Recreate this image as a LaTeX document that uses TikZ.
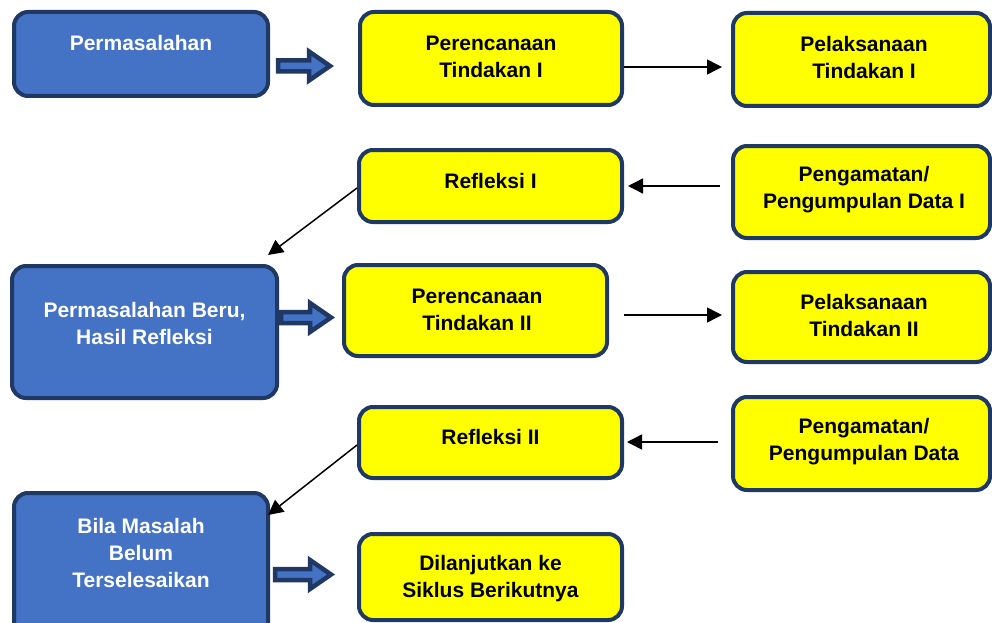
\documentclass[tikz,border=0pt]{standalone}
\usepackage{fontspec}
\setmainfont{Liberation Sans}
\usetikzlibrary{arrows.meta}
\definecolor{boxblue}{HTML}{4472C4}
\definecolor{navy}{HTML}{1F3864}
\definecolor{boxyellow}{HTML}{FFFF00}
\begin{document}
\begin{tikzpicture}[x=1pt,y=-1pt,
  base/.style={draw=navy, line width=4pt, rounded corners=14pt, inner sep=0pt},
  bluebox/.style={base, fill=boxblue},
  yellowbox/.style={base, fill=boxyellow},
  wtxt/.style={text=white, font=\fontsize{21}{27}\selectfont\bfseries, align=center, inner sep=0pt},
  btxt/.style={text=black, font=\fontsize{21}{27}\selectfont\bfseries, align=center, inner sep=0pt},
  conn/.style={draw=black, line width=1.5pt, -{Triangle[length=15pt,width=15pt]}},
  pics/barrow/.style={code={
    \draw[fill=boxblue, draw=navy, line width=4.5pt, line join=miter]
      (0,0) -- (-21,-14.5) -- (-21,-5.5) -- (-#1,-5.5) -- (-#1,5.5) -- (-21,5.5) -- (-21,14.5) -- cycle;}}
]
\useasboundingbox (0,0) rectangle (992,623);

% boxes
\node[bluebox, minimum width=254pt, minimum height=84pt] (p1) at (141,54) {};
\node[wtxt] (p1t) at (141,43) {Permasalahan};

\node[yellowbox, minimum width=262pt, minimum height=93pt] (r1) at (491,58.5) {};
\node[btxt] (r1t) at (491,57) {Perencanaan\\Tindakan I};

\node[yellowbox, minimum width=257pt, minimum height=93pt] (l1) at (861.5,59.5) {};
\node[btxt] (l1t) at (864,57) {Pelaksanaan\\Tindakan I};

\node[yellowbox, minimum width=263pt, minimum height=72pt] (f1) at (490.5,186) {};
\node[btxt] (f1t) at (490.5,181) {Refleksi I};

\node[yellowbox, minimum width=257pt, minimum height=92pt] (g1) at (861.5,192) {};
\node[btxt] (g1t) at (864,189.5) {Pengamatan/\\Pengumpulan Data I};

\node[bluebox, minimum width=265pt, minimum height=132pt] (p2) at (144.5,332) {};
\node[wtxt] (p2t) at (144.5,323) {Permasalahan Beru,\\Hasil Refleksi};

\node[yellowbox, minimum width=263pt, minimum height=91pt] (r2) at (475.5,310.5) {};
\node[btxt] (r2t) at (477,309.5) {Perencanaan\\Tindakan II};

\node[yellowbox, minimum width=257pt, minimum height=90pt] (l2) at (861.5,317) {};
\node[btxt] (l2t) at (864,315) {Pelaksanaan\\Tindakan II};

\node[yellowbox, minimum width=263pt, minimum height=71pt] (f2) at (490.5,442.5) {};
\node[btxt] (f2t) at (490.5,437) {Refleksi II};

\node[yellowbox, minimum width=257pt, minimum height=93pt] (g2) at (861.5,443.5) {};
\node[btxt] (g2t) at (864,442) {Pengamatan/\\Pengumpulan Data};

\node[bluebox, minimum width=254pt, minimum height=147pt] (p3) at (141,566.5) {};
\node[wtxt] (p3t) at (141,553) {Bila Masalah\\Belum\\Terselesaikan};

\node[yellowbox, minimum width=263pt, minimum height=86pt] (d) at (490.5,577) {};
\node[btxt] (dt) at (490.5,579) {Dilanjutkan ke\\Siklus Berikutnya};

% thin connectors
\coordinate (a1) at (268,255);
\coordinate (a2) at (268,515);
\draw[conn, shorten >=9pt] (r1.east|-0,67) -- (l1.west|-0,67);
\draw[conn, shorten <=11pt, shorten >=4pt] (g1.west|-0,186) -- (f1.east|-0,186);
\draw[conn, shorten <=15pt, shorten >=9pt] (r2.east|-0,315) -- (l2.west|-0,315);
\draw[conn, shorten <=13pt, shorten >=3pt] (g2.west|-0,442) -- (f2.east|-0,442);
\draw[conn] (f1.west|-0,188) -- (a1);
\draw[conn] (f2.west|-0,445) -- (a2);

% block arrows
\pic at (330,66) {barrow=52};
\pic at (331,317.5) {barrow=50};
\pic at (331,574.5) {barrow=56};
\end{tikzpicture}
\end{document}
